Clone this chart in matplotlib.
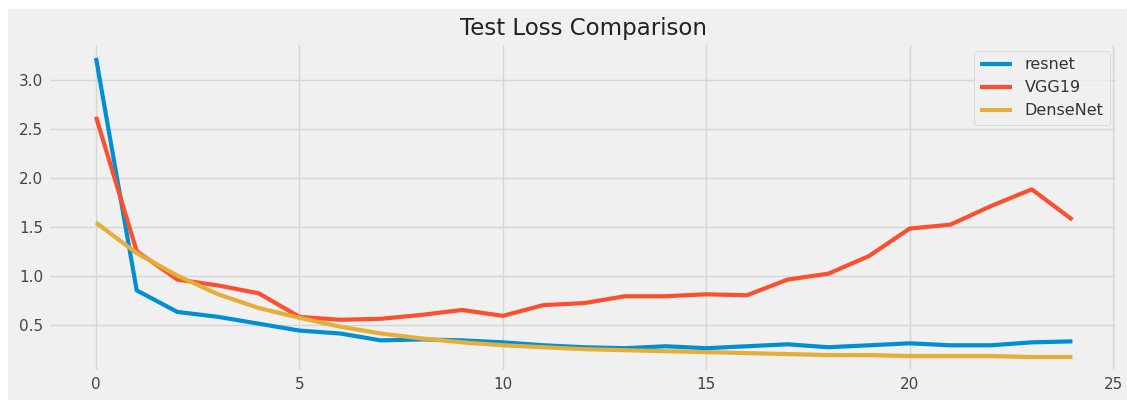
import numpy as np
import matplotlib
matplotlib.use('Agg')
import matplotlib.pyplot as plt
from matplotlib.patches import Rectangle

plt.style.use('fivethirtyeight')

epochs = list(range(25))
resnet = [3.22, 0.85, 0.63, 0.58, 0.51, 0.44, 0.41, 0.34, 0.35, 0.34, 0.32, 0.29, 0.27,
          0.26, 0.28, 0.26, 0.28, 0.30, 0.27, 0.29, 0.31, 0.29, 0.29, 0.32, 0.33]
vgg19 = [2.62, 1.25, 0.96, 0.90, 0.82, 0.58, 0.55, 0.56, 0.60, 0.65, 0.59, 0.70, 0.72,
         0.79, 0.79, 0.81, 0.80, 0.96, 1.02, 1.20, 1.48, 1.52, 1.71, 1.88, 1.57]
densenet = [1.54, 1.23, 1.00, 0.81, 0.67, 0.57, 0.48, 0.41, 0.36, 0.32, 0.29, 0.27, 0.25,
            0.24, 0.23, 0.22, 0.21, 0.20, 0.19, 0.19, 0.18, 0.18, 0.18, 0.17, 0.17]

fig = plt.figure(figsize=(11.27, 4), dpi=100, facecolor='white')
# screenshot-style grey panel with a thin white margin at top/left
fig.patches.append(Rectangle((8 / 1127, 0), 1, 1 - 9 / 400, transform=fig.transFigure,
                             facecolor='#f0f0f0', edgecolor='none', zorder=-10))
ax = fig.add_axes([48 / 1127, 28 / 400, 1070 / 1127, 329 / 400])

ax.plot(epochs, resnet, label='resnet', linewidth=3)
ax.plot(epochs, vgg19, label='VGG19', linewidth=3)
ax.plot(epochs, densenet, label='DenseNet', linewidth=3)

ax.set_xlim(-1.18, 25.12)
ax.grid(color='#d6d6d6', linewidth=1)
ax.set_title('Test Loss Comparison', fontsize=16.5, color='#222222')
ax.tick_params(labelsize=11, colors='#444444')
ax.set_xticks([0, 5, 10, 15, 20, 25])
leg = ax.legend(loc='upper right', fontsize=11.5)
for t in leg.get_texts():
    t.set_color('#333333')

fig.savefig('out.png', dpi=100, facecolor='white')
